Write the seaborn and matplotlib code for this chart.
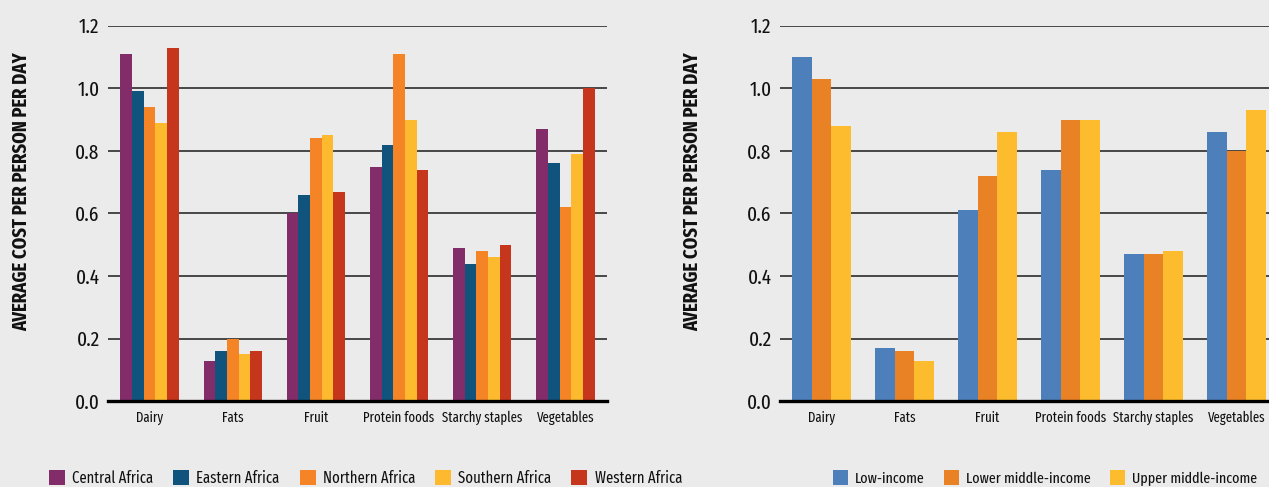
import pandas as pd
import seaborn as sns
import matplotlib
matplotlib.use("Agg")
import matplotlib.pyplot as plt

# food groups on the x axis
food_groups = ["Dairy", "Fats", "Fruit", "Protein foods", "Starchy staples", "Vegetables"]

# left panel: cost by region
regions = ["Central Africa", "Eastern Africa", "Northern Africa", "Southern Africa", "Western Africa"]
central = [1.11, 0.13, 0.60, 0.75, 0.49, 0.87]
eastern = [0.99, 0.16, 0.66, 0.82, 0.44, 0.76]
northern = [0.94, 0.20, 0.84, 1.11, 0.48, 0.62]
southern = [0.89, 0.15, 0.85, 0.90, 0.46, 0.79]
western = [1.13, 0.16, 0.67, 0.74, 0.50, 1.00]
region_colors = ["#822D69", "#10537C", "#F58426", "#FDBA2E", "#C5361D"]

# right panel: cost by income group
incomes = ["Low-income", "Lower middle-income", "Upper middle-income"]
low_income = [1.10, 0.17, 0.61, 0.74, 0.47, 0.86]
lower_middle = [1.03, 0.16, 0.72, 0.90, 0.47, 0.80]
upper_middle = [0.88, 0.13, 0.86, 0.90, 0.48, 0.93]
income_colors = ["#4D80BB", "#E98225", "#FDBC2D"]

y_ticks = [0.0, 0.2, 0.4, 0.6, 0.8, 1.0, 1.2]
y_label = "AVERAGE COST PER PERSON PER DAY"


def long_table(names, series):
    rows = []
    for name, vals in zip(names, series):
        for grp, v in zip(food_groups, vals):
            rows.append({"group": grp, "series": name, "cost": v})
    return pd.DataFrame(rows)


region_df = long_table(regions, [central, eastern, northern, southern, western])
income_df = long_table(incomes, [low_income, lower_middle, upper_middle])

bg = "#EBEBEB"
sns.set_style("whitegrid", {"axes.facecolor": bg, "grid.color": "#3a3a3a"})
plt.rcParams["figure.facecolor"] = bg
# condensed face close to the original's Futura Condensed
plt.rcParams["font.family"] = ["Fira Sans Extra Condensed", "DejaVu Sans"]
plt.rcParams["text.color"] = "#111111"
plt.rcParams["xtick.color"] = "#111111"
plt.rcParams["ytick.color"] = "#111111"

fig = plt.figure(figsize=(12.69, 4.87), dpi=100)
ax1 = fig.add_axes([108 / 1269, 0.176, 499 / 1269, 0.7713])
ax2 = fig.add_axes([780 / 1269, 0.176, 498 / 1269, 0.7713])

panels = [
    (ax1, region_df, regions, region_colors, 22, 49, 11.5),
    (ax2, income_df, incomes, income_colors, 693, 833, 11.0),
]

for ax, df, names, colors, label_x, legend_x, legend_size in panels:
    sns.barplot(data=df, x="group", y="cost", hue="series", order=food_groups,
                hue_order=names, palette=colors, width=0.7, saturation=1,
                linewidth=0, ax=ax)
    handles, labels = ax.get_legend_handles_labels()
    ax.get_legend().remove()

    ax.set_xlim(-0.5, 5.5)
    ax.set_ylim(0, 1.2)
    ax.set_yticks(y_ticks)
    ax.set_yticklabels([f"{t:.1f}" for t in y_ticks])
    ax.set_xlabel("")
    ax.set_ylabel("")
    ax.set_axisbelow(True)
    ax.grid(axis="y", color="#3a3a3a", linewidth=1.3)
    ax.grid(axis="x", visible=False)
    for side in ["top", "left", "right"]:
        ax.spines[side].set_visible(False)
    ax.spines["bottom"].set_color("black")
    ax.spines["bottom"].set_linewidth(2.4)
    ax.spines["bottom"].set_zorder(5)
    ax.tick_params(axis="y", length=0, pad=6, labelsize=15)
    ax.tick_params(axis="x", length=0, pad=7, labelsize=10)

    fig.text(label_x / 1269, 1 - 192 / 487, y_label, rotation=90,
             ha="center", va="center", fontsize=14.5, fontweight="bold")

    fig.legend(handles, labels, loc="center left",
               bbox_to_anchor=(legend_x / 1269, 1 - 478 / 487),
               ncol=len(names), frameon=False, fontsize=legend_size,
               handlelength=1.0, handleheight=1.1, handletextpad=0.45,
               columnspacing=1.25, borderpad=0, borderaxespad=0)

fig.savefig("out.png", dpi=100, facecolor=bg)
